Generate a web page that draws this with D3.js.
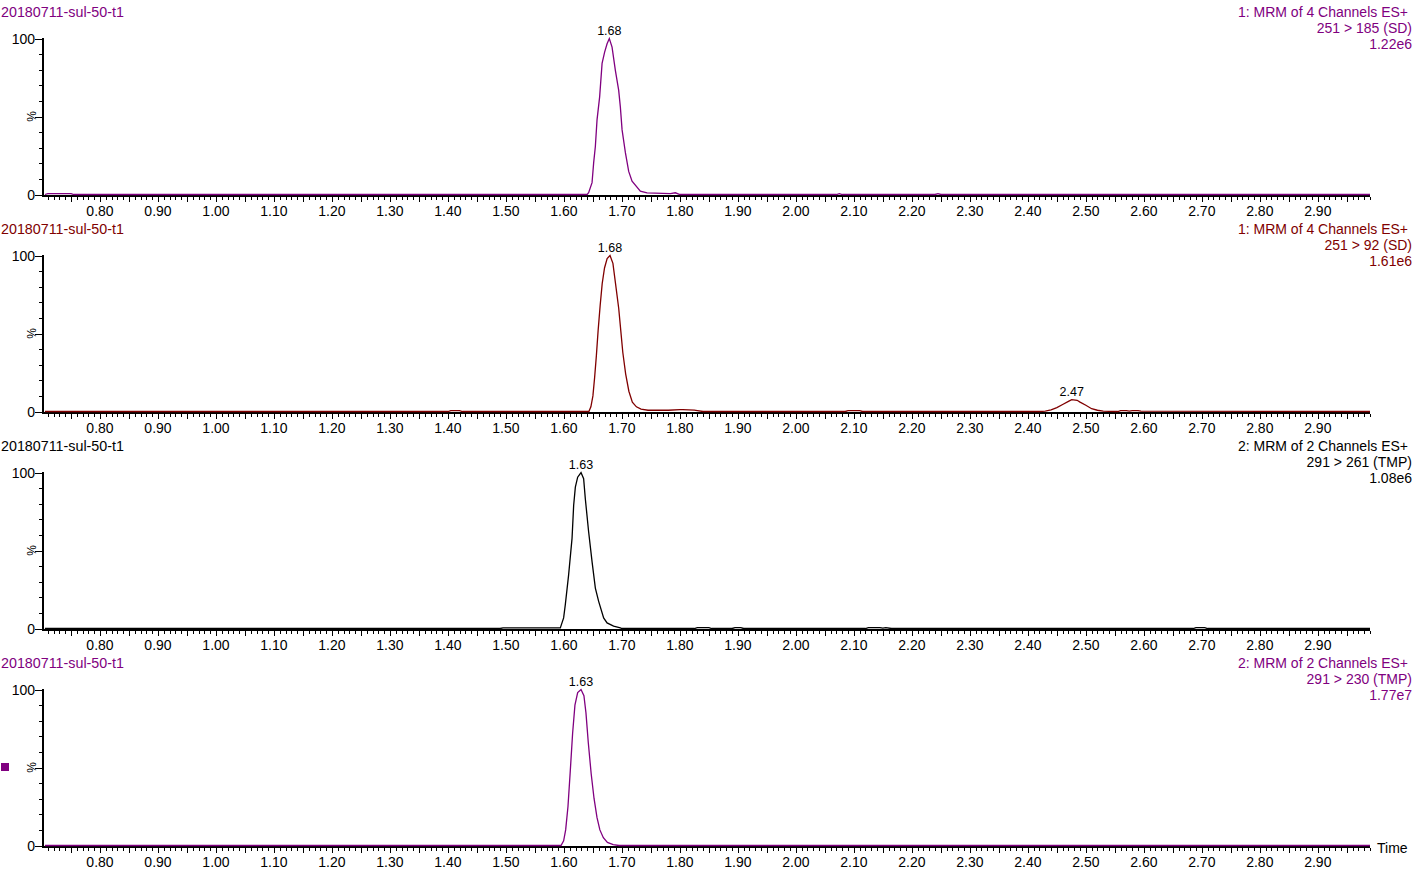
<!DOCTYPE html>
<html><head><meta charset="utf-8">
<script src="https://cdn.jsdelivr.net/npm/d3@7"></script>
<style>body{margin:0;background:#fff;overflow:hidden} text{font-family:Arial,"Liberation Sans",sans-serif;}</style>
</head><body><svg id="c" width="1414" height="872"></svg>
<script>
// ---- data ----
const sampleName = "20180711-sul-50-t1";
const channelTitles = ["1: MRM of 4 Channels ES+", "1: MRM of 4 Channels ES+", "2: MRM of 2 Channels ES+", "2: MRM of 2 Channels ES+"];
const transitions = ["251 > 185 (SD)", "251 > 92 (SD)", "291 > 261 (TMP)", "291 > 230 (TMP)"];
const maxIntensities = ["1.22e6", "1.61e6", "1.08e6", "1.77e7"];
const xTickLabels = ["0.80","0.90","1.00","1.10","1.20","1.30","1.40","1.50","1.60","1.70","1.80","1.90","2.00","2.10","2.20","2.30","2.40","2.50","2.60","2.70","2.80","2.90"];
const yTickLabels = ["0", "%", "100"];

const time1 = [0.705,0.71,0.75,0.755,1.64,1.6426,1.6485,1.6513,1.6542,1.6571,1.6616,1.6658,1.6702,1.6744,1.6783,1.6830,1.6887,1.6944,1.6973,1.7003,1.7060,1.7117,1.7175,1.7318,1.7434,1.7836,1.7922,1.80,2.07,2.075,2.08,2.24,2.245,2.25,2.99];
const pct1  = [0,0.6,0.6,0,0,1.1,7.6,20.4,30.8,47.8,62.6,84,91.3,96.6,100,94.5,79.6,66.9,56.2,41.4,26.8,14.8,8.5,2.1,1.1,0.6,1.1,0,0,0.6,0,0,0.5,0,0];

const time2 = [0.705,1.40,1.405,1.42,1.425,1.643,1.6465,1.650,1.653,1.656,1.659,1.6625,1.666,1.670,1.6745,1.6795,1.6845,1.689,1.6945,1.698,1.7015,1.7065,1.712,1.718,1.725,1.733,1.745,1.78,1.80,1.805,1.825,1.83,1.84,2.085,2.09,2.11,2.115,2.42,2.43,2.44,2.45,2.46,2.47,2.4756,2.485,2.49,2.50,2.51,2.52,2.53,2.55,2.555,2.56,2.57,2.575,2.58,2.59,2.595,2.99];
const pct2  = [0,0,0.6,0.6,0,0,3,10,22,36,52,68,82,92,98,100,95,82,66,52,38,24,13,6,3,1.5,0.8,0.8,1.2,1.2,0.9,0.6,0,0,0.5,0.5,0,0,0.3,1,2.5,4.5,6.5,7.6,7.2,6,4,1.8,0.8,0.3,0,0,0.6,0.6,0.3,0.6,0.6,0.3,0,0];

const time3 = [0.705,1.49,1.495,1.59,1.5938,1.5995,1.6024,1.6081,1.6140,1.6168,1.6197,1.6237,1.6295,1.6340,1.6369,1.6426,1.6485,1.6542,1.6599,1.6685,1.6744,1.6857,1.6973,1.70,1.825,1.83,1.85,1.855,1.89,1.895,1.905,1.91,2.12,2.125,2.145,2.15,2.155,2.165,2.685,2.69,2.705,2.71,2.99];
const pct3  = [0,0,0.4,0.4,0.4,6.8,15.3,34.4,57.8,79,90.6,97,100,96,83.2,62,42.9,25.9,17.4,6.8,3.6,1.5,0.4,0,0,0.6,0.6,0,0,0.5,0.5,0,0,0.6,0.6,0.3,0.5,0,0,0.6,0.6,0,0];

const time4 = [0.705,1.595,1.5995,1.603,1.607,1.611,1.615,1.619,1.6237,1.6295,1.6345,1.638,1.642,1.647,1.652,1.657,1.662,1.668,1.675,1.685,1.695,2.99];
const pct4  = [0,0,3,10,25,48,72,90,98,100,96,85,66,46,30,18,10,5,2,0.6,0,0];

const peakTimes  = [["1.68"], ["1.68","2.47"], ["1.63"], ["1.63"]];
const peakWindows = [[[1.6,1.8]], [[1.6,1.8],[2.4,2.55]], [[1.55,1.75]], [[1.55,1.75]]];

const traceColors = ["#800080", "#800000", "#000000", "#800080"];
const times = [time1, time2, time3, time4];
const pcts = [pct1, pct2, pct3, pct4];

// ---- drawing ----
const svg = d3.select("#c");
const x = d3.scaleLinear().domain([0.70, 2.99]).range([42, 1370]);
const panelH = 217;

for (let p = 0; p < 4; p++) {
  const off = p * panelH;
  const col = traceColors[p];
  const y = d3.scaleLinear().domain([0, 100]).range([194.5 + off, 38.5 + off]);
  const g = svg.append("g");

  // header texts
  g.append("text").attr("x", 1).attr("y", 17 + off).attr("fill", col).style("font-size", "14.3px").text(sampleName);
  g.append("text").attr("x", 1408).attr("y", 17 + off).attr("fill", col).attr("text-anchor", "end").style("font-size", "14px").text(channelTitles[p]);
  g.append("text").attr("x", 1412).attr("y", 33 + off).attr("fill", col).attr("text-anchor", "end").style("font-size", "14px").text(transitions[p]);
  g.append("text").attr("x", 1412).attr("y", 49 + off).attr("fill", col).attr("text-anchor", "end").style("font-size", "14px").text(maxIntensities[p]);

  // y axis
  const yTicks = d3.range(0, 101, 10);
  g.append("line").attr("x1", 43).attr("x2", 43).attr("y1", y(100) - 0.5).attr("y2", y(0) + 2.5).attr("stroke", "#000").attr("stroke-width", 2);
  g.selectAll(".yt").data(yTicks).enter().append("line")
    .attr("x1", d => (d % 50 === 0) ? 35 : 39).attr("x2", 43)
    .attr("y1", d => Math.round(y(d)) + 0.5).attr("y2", d => Math.round(y(d)) + 0.5)
    .attr("stroke", "#000").attr("stroke-width", 1);
  g.append("text").attr("x", 35).attr("y", y(100) + 5).attr("text-anchor", "end").style("font-size", "14px").text(yTickLabels[2]);
  g.append("text").attr("x", 35).attr("y", y(0) + 5).attr("text-anchor", "end").style("font-size", "14px").text(yTickLabels[0]);
  g.append("text").attr("transform", `translate(32,${y(50)}) rotate(-90)`).attr("text-anchor", "middle").attr("dy", "0.35em").style("font-size", "12px").text(yTickLabels[1]);

  // x axis
  const bl = y(0) + 1.5;
  g.append("line").attr("x1", 42).attr("x2", 1370).attr("y1", bl).attr("y2", bl).attr("stroke", "#000").attr("stroke-width", 2);
  const xt = d3.range(71, 300).map(i => i / 100);
  g.selectAll(".xt").data(xt).enter().append("line")
    .attr("x1", d => Math.round(x(d)) + 0.5).attr("x2", d => Math.round(x(d)) + 0.5)
    .attr("y1", bl + 1).attr("y2", d => (Math.round(d * 100) % 5 === 0) ? bl + 6 : bl + 4)
    .attr("stroke", "#000").attr("stroke-width", 1);
  g.selectAll(".xl").data(xTickLabels).enter().append("text")
    .attr("x", d => x(+d)).attr("y", bl + 20).attr("text-anchor", "middle").style("font-size", "14px").text(d => d);

  // trace
  const pts = times[p].map((t, i) => [t, pcts[p][i]]);
  const line = d3.line().x(d => x(d[0])).y(d => y(d[1]));
  g.append("path").attr("d", line(pts)).attr("fill", "none").attr("stroke", col).attr("stroke-width", 1.3);

  // peak labels
  peakTimes[p].forEach((lab, k) => {
    const w = peakWindows[p][k];
    const inW = pts.filter(d => d[0] >= w[0] && d[0] <= w[1]);
    const top = inW.reduce((a, b) => b[1] > a[1] ? b : a);
    g.append("text").attr("x", x(top[0])).attr("y", y(top[1]) - 4).attr("text-anchor", "middle").style("font-size", "12.5px").text(lab);
  });
}

// Time label
svg.append("text").attr("x", 1377).attr("y", 853).style("font-size", "14px").text("Time");
// legend square
svg.append("rect").attr("x", 1).attr("y", 763).attr("width", 8).attr("height", 8).attr("fill", "#800080");
</script></body></html>
